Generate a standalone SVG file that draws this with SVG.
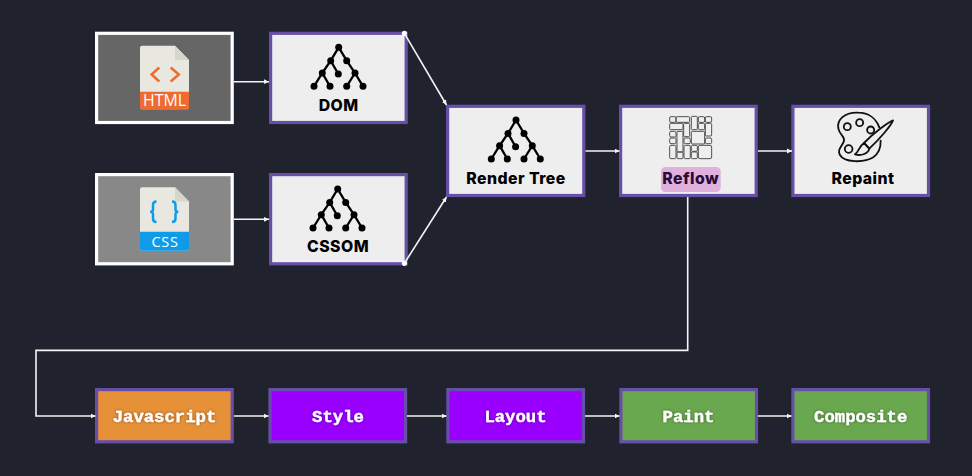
<svg xmlns="http://www.w3.org/2000/svg" xmlns:xlink="http://www.w3.org/1999/xlink" width="972" height="476" viewBox="0 0 972 476">
<style>
.box{stroke:#674ea7;stroke-width:3.2}
.light{fill:#eeeeee}
.src{stroke:#ffffff;stroke-width:3.2}
.lbl{font-family:"Inter","Liberation Sans",sans-serif;font-weight:800;font-size:15.8px;letter-spacing:.45px;text-anchor:middle;fill:#000}
.code{font-family:"Liberation Mono",monospace;font-weight:700;font-size:17.3px;text-anchor:middle;fill:#fff;stroke:#fff;stroke-width:.35;filter:url(#halo)}
.conn{fill:none;stroke:#f4f4f4;stroke-width:1.6}
.arr{marker-end:url(#head)}
.ft{font-family:"Open Sans","Liberation Sans",sans-serif;font-weight:500;fill:#fff;text-anchor:middle}
.grid rect{fill:none;stroke:#444;stroke-width:2.8}
</style>
<defs>
<marker id="head" markerUnits="userSpaceOnUse" markerWidth="6" markerHeight="6" refX="5" refY="3" orient="auto"><path d="M0 .6L5 3L0 5.4z" fill="#f4f4f4"/></marker>
<marker id="dot" markerUnits="userSpaceOnUse" markerWidth="6" markerHeight="6" refX="3" refY="3"><circle cx="3" cy="3" r="2.6" fill="#fff"/></marker>
<filter id="halo" x="-20%" y="-40%" width="140%" height="180%"><feDropShadow dx="0" dy="0" stdDeviation="1.4" flood-color="#000" flood-opacity=".45"/></filter>
<g id="tree">
<path d="M0 0L-8 13.4L-16.4 25.7L-24.7 39M-16.4 25.7L-8.7 39M0 0L8 13.4L16.3 25.7L24.3 39M16.3 25.7L8 39M-8 13.4L-.4 26.7" fill="none" stroke="#000" stroke-width="2.3"/>
<g fill="#000"><circle r="3.5"/><circle cx="-8" cy="13.4" r="3.5"/><circle cx="8" cy="13.4" r="3.5"/><circle cx="-16.4" cy="25.7" r="3.5"/><circle cx="16.3" cy="25.7" r="3.5"/><circle cx="-.4" cy="26.7" r="3.5"/><circle cx="-24.7" cy="39" r="3.5"/><circle cx="-8.7" cy="39" r="3.5"/><circle cx="8" cy="39" r="3.5"/><circle cx="24.3" cy="39" r="3.5"/></g>
</g>
</defs>
<rect width="972" height="476" fill="#20222e"/>

<g id="html">
<rect class="src" x="96.6" y="33.3" width="135.6" height="89.2" fill="#666666"/>
<path d="M142 45.7H175L189 60V107.3q0 2-2 2H142q-2 0-2-2V47.7q0-2 2-2z" fill="#e8e8e0"/>
<path d="M175 45.7L189 60H175z" fill="#d6d6cb"/>
<path d="M140 91.7H189V107.3q0 2-2 2H142q-2 0-2-2z" fill="#f06a2f"/>
<path d="M159.3 67.5L151.6 74.5L159.3 81.5M170.7 67.5L178.8 74.5L170.7 81.5" fill="none" stroke="#f06a2f" stroke-width="2.5"/>
<text class="ft" x="164.5" y="106" font-size="15.5" textLength="43" lengthAdjust="spacingAndGlyphs">HTML</text>
</g>

<g id="dom">
<rect class="box light" x="270.6" y="33.3" width="135.6" height="89.2"/>
<use xlink:href="#tree" href="#tree" x="338.7" y="47.3"/>
<text class="lbl" x="338.7" y="111">DOM</text>
</g>

<g id="css">
<rect class="src" x="96.6" y="174.6" width="135.6" height="89.2" fill="#888888"/>
<path d="M142 187.3H175L189 201.6V248.7q0 2-2 2H142q-2 0-2-2V189.3q0-2 2-2z" fill="#e8e8e0"/>
<path d="M175 187.3L189 201.6H175z" fill="#d6d6cb"/>
<path d="M140 231.7H189V248.7q0 2-2 2H142q-2 0-2-2z" fill="#0f9be8"/>
<path d="M156.5 201.5Q153 201.5 153 205V209.5Q153 211.5 150.3 211.7Q153 212 153 214V218.5Q153 222 156.5 222M172 201.5Q175.5 201.5 175.5 205V209.5Q175.5 211.5 178.2 211.7Q175.5 212 175.5 214V218.5Q175.5 222 172 222" fill="none" stroke="#0f9be8" stroke-width="2.5"/>
<text class="ft" x="164.7" y="246.8" font-size="14.5" textLength="26.5" lengthAdjust="spacing">CSS</text>
</g>

<g id="cssom">
<rect class="box light" x="270.6" y="174.6" width="135.6" height="89.2"/>
<use xlink:href="#tree" href="#tree" x="337.7" y="189"/>
<text class="lbl" x="338" y="252.3">CSSOM</text>
</g>

<g id="render-tree">
<rect class="box light" x="447.6" y="106.3" width="136.2" height="89.2"/>
<use xlink:href="#tree" href="#tree" x="516" y="120"/>
<text class="lbl" x="516" y="184">Render Tree</text>
</g>

<g id="reflow">
<rect class="box light" x="620.6" y="106.3" width="135.6" height="89.2"/>
<g class="grid" transform="translate(610 100) scale(.3333)">
<rect x="179" y="50" width="19" height="17" rx="4"/><rect x="198" y="50" width="41" height="17" rx="3"/><rect x="244" y="49" width="18" height="40" rx="3"/><rect x="265" y="50" width="19" height="17" rx="4"/><rect x="286" y="50" width="19" height="17" rx="4"/>
<rect x="179" y="70" width="40" height="19" rx="3"/><rect x="221" y="70" width="18" height="40" rx="3"/><rect x="265" y="70" width="19" height="19" rx="3"/><rect x="286" y="70" width="19" height="38" rx="3"/>
<rect x="179" y="94" width="19" height="17" rx="4"/><rect x="201" y="94" width="18" height="62" rx="3"/><rect x="244" y="94" width="40" height="38" rx="3"/>
<rect x="179" y="114" width="19" height="17" rx="4"/><rect x="222" y="114" width="19" height="17" rx="4"/><rect x="286" y="114" width="19" height="17" rx="4"/>
<rect x="179" y="136" width="19" height="40" rx="4"/><rect x="201" y="156" width="18" height="20" rx="3"/><rect x="222" y="136" width="19" height="40" rx="4"/><rect x="244" y="136" width="18" height="18" rx="3"/><rect x="244" y="156" width="18" height="20" rx="3"/><rect x="265" y="136" width="40" height="40" rx="5"/>
</g>
<rect x="661" y="167" width="59.7" height="25" rx="4.5" fill="#dfb1dc"/>
<text class="lbl" x="690.7" y="184" style="fill:#2a0a38">Reflow</text>
</g>

<g id="repaint">
<rect class="box light" x="792.9" y="106.3" width="135.6" height="89.2"/>
<g transform="translate(610 100) scale(.3333)" fill="none" stroke="#111" stroke-width="5.5" stroke-linejoin="round" stroke-linecap="round">
<path d="M808 82C798 55 775 38 745 38C703 36 680 60 685 85C690 110 708 108 701 126C692 144 682 150 690 165C702 187 760 190 790 172C806 160 813 145 812 122"/>
<path d="M849 61C843 77 810 116 778 146L762 129C790 100 834 67 849 61Z"/>
<path d="M762 129L778 146C775 160 755 169 735 163C748 155 745 141 762 129Z"/>
<circle cx="712" cy="80" r="10.5"/><circle cx="749" cy="68" r="10.5"/><circle cx="782" cy="90" r="10.5"/><circle cx="716" cy="147" r="11.5"/>
</g>
<text class="lbl" x="863" y="184">Repaint</text>
</g>

<g id="javascript"><rect class="box" x="96.6" y="389.6" width="135.6" height="52.2" fill="#e69138"/><text class="code" x="164.5" y="421.7">Javascript</text></g>
<g id="style-step"><rect class="box" x="270" y="389.6" width="135.6" height="52.2" fill="#9900ff"/><text class="code" x="338" y="421.7">Style</text></g>
<g id="layout"><rect class="box" x="447.9" y="389.6" width="135.6" height="52.2" fill="#9900ff"/><text class="code" x="515.5" y="421.7">Layout</text></g>
<g id="paint"><rect class="box" x="620.9" y="389.6" width="135.6" height="52.2" fill="#6aa84f"/><text class="code" x="688.5" y="421.7">Paint</text></g>
<g id="composite"><rect class="box" x="792.9" y="389.6" width="135.6" height="52.2" fill="#6aa84f"/><text class="code" x="860.7" y="421.7">Composite</text></g>

<g id="connectors">
<path class="conn arr" d="M234 81.7H269"/>
<path class="conn arr" d="M234 219.3H269"/>
<path class="conn arr" d="M404.4 33.3L446.5 105" marker-start="url(#dot)"/>
<path class="conn arr" d="M404.4 263.3L446.5 197" marker-start="url(#dot)"/>
<path class="conn arr" d="M585.5 151H619.5"/>
<path class="conn arr" d="M758 151H792"/>
<path class="conn arr" d="M687.7 197V350.4H36V416H95.5"/>
<path class="conn arr" d="M234 416H268.5"/>
<path class="conn arr" d="M407 416H446.5"/>
<path class="conn arr" d="M585 416H619.5"/>
<path class="conn arr" d="M758 416H791.5"/>
</g>
</svg>
